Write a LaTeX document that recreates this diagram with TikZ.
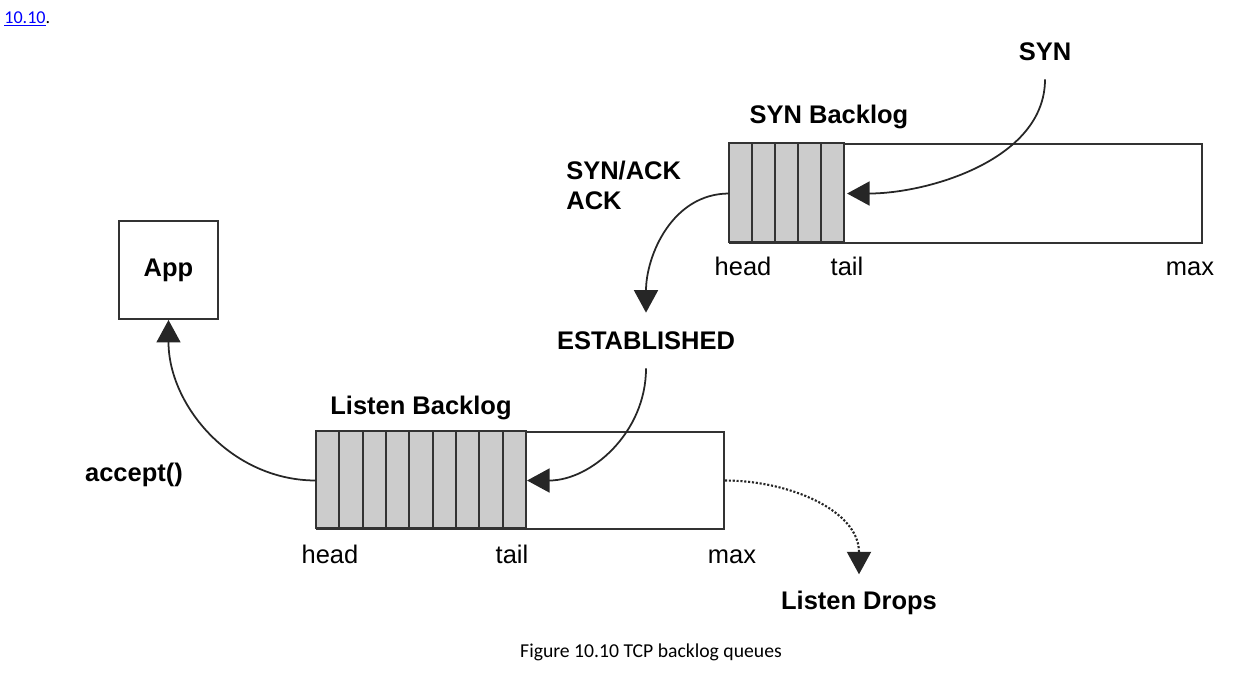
\documentclass[tikz,border=0pt]{standalone}
\usepackage{fontspec}
\setmainfont{Liberation Sans}
\newfontfamily\capfont{Carlito}
\usetikzlibrary{arrows.meta}
\usetikzlibrary{calc}

\begin{document}
\begin{tikzpicture}[x=0.02cm, y=0.02cm, every node/.style={inner sep=0pt},
  lbl/.style={anchor=base, font=\fontsize{14.5}{17}\selectfont},
  blbl/.style={font=\fontsize{14.5}{17}\selectfont\bfseries},
  queue/.style={draw=black!80, line width=1.1pt, fill=white},
  cell/.style={draw=black!80, line width=1.1pt, fill=black!20},
  flow/.style={draw=black!85, line width=1pt, -{Triangle[length=0.45cm, width=0.48cm]}},
  drop/.style={flow, line width=1.2pt, densely dotted}]
  \useasboundingbox (0,0) rectangle (1253,-681);
  \node[anchor=west, font=\capfont\fontsize{10.3}{12}\selectfont] (ref) at (4,-19) {\textcolor{blue}{\underline{10.10}}.};
  % SYN queue
  \node[queue, minimum width=9.44cm, minimum height=1.98cm] (synq) at (966,-193.5) {};
  \foreach \i in {0,...,4} \draw[cell] ($(synq.north west)+(\i*23,0)$) rectangle ++(23,-99);
  \coordinate (syntail) at ($(synq.west)+(118,0)$);
  \node[blbl] (syn) at (1045,-52) {SYN};
  \node[blbl] (synlbl) at (829,-117) {SYN Backlog};
  \node[blbl, align=left, anchor=north west] (synack) at (566,-161) {SYN/ACK\\ACK};
  \node[lbl] (synhead) at (743,-275) {head};
  \node[lbl] (syntl) at (847,-275) {tail};
  \node[lbl] (synmax) at (1190,-275) {max};
  \node[blbl] (est) at (646,-341) {ESTABLISHED};
  % listen queue
  \node[queue, minimum width=8.14cm, minimum height=1.94cm] (lstq) at (520.5,-480.5) {};
  \foreach \i in {0,...,8} \draw[cell] ($(lstq.north west)+(\i*23.33,0)$) rectangle ++(23.33,-97);
  \coordinate (lsttail) at ($(lstq.west)+(211,0)$);
  \node[blbl] (lstlbl) at (421,-408) {Listen Backlog};
  \node[lbl] (lsthead) at (330,-563) {head};
  \node[lbl] (lsttl) at (512,-563) {tail};
  \node[lbl] (lstmax) at (732,-563) {max};
  \node[queue, minimum width=1.98cm, minimum height=1.96cm, blbl] (app) at (168.5,-270) {App};
  \node[blbl] (acc) at (134,-475) {accept()};
  \node[blbl] (drops) at (859,-603) {Listen Drops};
  \node[font=\capfont\fontsize{11.2}{13}\selectfont] (cap) at (651,-652) {Figure 10.10 TCP backlog queues};
  % connectors
  \draw[flow] ([yshift=-0.36cm]syn.south) to[out=-90, in=0, looseness=0.9] (syntail);
  \draw[flow] (synq.west) to[out=180, in=90] ([yshift=0.38cm]est.north);
  \draw[flow] ([yshift=-0.36cm]est.south) to[out=-90, in=0] (lsttail);
  \draw[flow] (lstq.west) to[out=180, in=-90] (app.south);
  \draw[drop] (lstq.east) to[out=0, in=90] ([yshift=0.33cm]drops.north);
\end{tikzpicture}
\end{document}
